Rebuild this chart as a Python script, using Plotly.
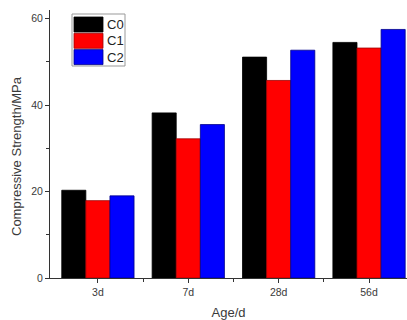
import plotly.graph_objects as go

categories = ["3d", "7d", "28d", "56d"]
series_names = ["C0", "C1", "C2"]
c0 = [20.3, 38.2, 51.1, 54.5]
c1 = [17.9, 32.2, 45.7, 53.2]
c2 = [19.0, 35.5, 52.7, 57.5]
colors = ["#000000", "#ff0000", "#0000ff"]
edge_colors = ["#000000", "#a00000", "#00008a"]
y_ticks = [0, 20, 40, 60]

values = [c0, c1, c2]
xpos = list(range(len(categories)))

fig = go.Figure()
for name, vals, col, ec in zip(series_names, values, colors, edge_colors):
    fig.add_trace(go.Bar(x=xpos, y=vals, name=name, marker=dict(color=col, line=dict(color=ec, width=0.8)),
                         showlegend=False))

font_col = "#3a3a3a"
fig.update_layout(
    width=407, height=320,
    margin=dict(l=50, r=0, t=10, b=42, autoexpand=False),
    paper_bgcolor="white", plot_bgcolor="white",
    bargap=0.2, bargroupgap=0,
    font=dict(family="Liberation Sans, Arial, sans-serif", color=font_col, size=10),
    xaxis=dict(
        range=[-0.53, 3.42], tickmode="array", tickvals=xpos, ticktext=categories,
        showline=True, linecolor="#333", linewidth=1, ticks="outside", ticklen=4, tickcolor="#333",
        showgrid=False, zeroline=False,
        minor=dict(tickmode="array", tickvals=[0.5, 1.5, 2.5], ticks="outside", ticklen=3, tickcolor="#333"),
        title=dict(text="Age/d", font=dict(size=13, color=font_col), standoff=13),
        tickfont=dict(size=10.5, color=font_col),
    ),
    yaxis=dict(
        range=[0, 62], tickmode="array", tickvals=y_ticks,
        showline=True, linecolor="#333", linewidth=1, ticks="outside", ticklen=4, tickcolor="#333",
        showgrid=False, zeroline=False,
        minor=dict(tickmode="array", tickvals=[10, 30, 50], ticks="outside", ticklen=3, tickcolor="#333"),
        tickfont=dict(size=10.5, color=font_col),
    ),
)

# y-axis title (placed slightly below the plot centre as in the original)
fig.add_annotation(xref="paper", yref="paper", x=(16 - 50) / 357, y=(278 - 156) / 268,
                   text="Compressive Strength/MPa", textangle=-90, showarrow=False,
                   xanchor="center", yanchor="middle", font=dict(size=13, color=font_col))

# custom legend (wide swatches like the original)
fig.add_shape(type="rect", xref="paper", yref="paper",
              x0=(72 - 50) / 357, x1=(125 - 50) / 357,
              y0=(278 - 66) / 268, y1=(278 - 14) / 268,
              line=dict(color="#999999", width=1), fillcolor="white", layer="above")
for i, (name, col, ec) in enumerate(zip(series_names, colors, edge_colors)):
    top = 17 + i * 16.3
    bot = top + 15
    fig.add_shape(type="rect", xref="paper", yref="paper",
                  x0=(74 - 50) / 357, x1=(103 - 50) / 357,
                  y0=(278 - bot) / 268, y1=(278 - top) / 268,
                  line=dict(color=ec, width=0.8), fillcolor=col, layer="above")
    fig.add_annotation(xref="paper", yref="paper", x=(105 - 50) / 357, y=(278 - (top + bot) / 2) / 268,
                       text=name, showarrow=False, xanchor="left", yanchor="middle",
                       font=dict(size=13, color="#222"))

fig.write_html("out.html")
